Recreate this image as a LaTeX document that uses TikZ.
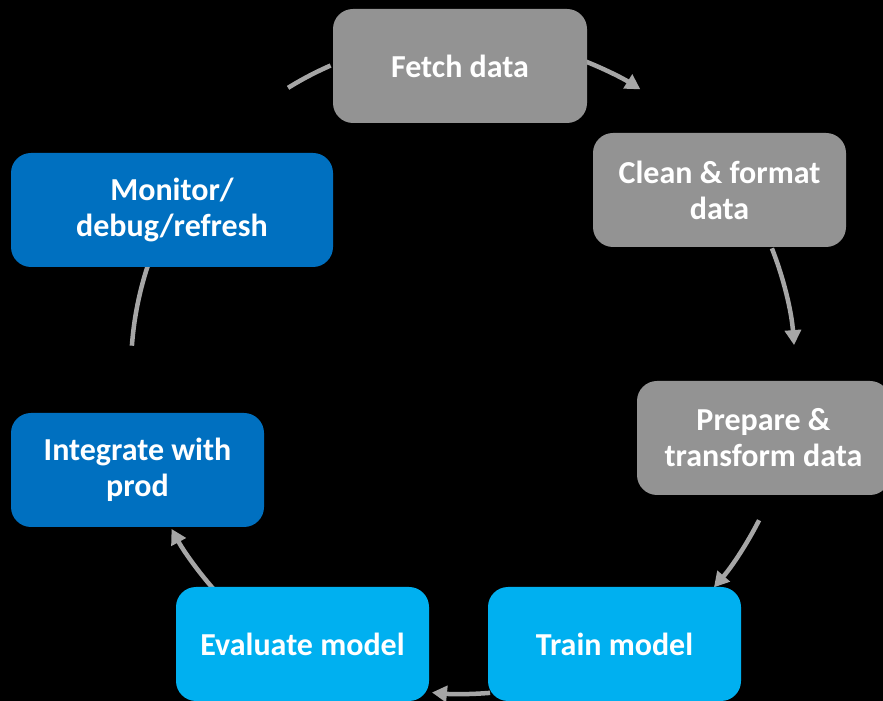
\documentclass[tikz,border=0pt]{standalone}
\usepackage{fontspec}
\setmainfont{Carlito}
\usetikzlibrary{arrows.meta,calc}
\definecolor{boxgray}{HTML}{939393}
\definecolor{darkblue}{HTML}{0070C0}
\definecolor{lightblue}{HTML}{00B0F0}
\definecolor{arrowgray}{HTML}{A6A6A6}
\begin{document}
\begin{tikzpicture}[x=1pt,y=1pt,
  stepbox/.style={rounded corners=20pt, minimum width=254pt, minimum height=114pt,
    inner sep=0pt, text=white, align=center, font=\fontsize{32}{36}\selectfont\bfseries},
  conn/.style={draw=arrowgray, line width=4.5pt},
  tip/.style={-{Triangle[width=16pt,length=15pt]}}]
\fill[black] (0,0) rectangle (883,701);
\useasboundingbox (0,0) rectangle (883,701);
\coordinate (C) at (463,331);
% connectors (behind boxes)
\coordinate (a1s) at ($(C)+(68.4:332)$);
\coordinate (a2s) at ($(C)+(21.5:332)$);
\coordinate (a3s) at ($(C)+(-26.9:332)$);
\coordinate (a4s) at ($(C)+(-85.2:324)$);
\coordinate (a5s) at ($(C)+(-138.7:332)$);
\coordinate (a6s) at ($(C)+(175.8:332)$);
\coordinate (a7s) at ($(C)+(121.8:332)$);
\draw[conn,tip] (a1s) arc[start angle=68.4, end angle=57.7, radius=332];
\draw[conn,tip] (a2s) arc[start angle=21.5, end angle=4.3, radius=332];
\draw[conn,tip] (a3s) arc[start angle=-26.9, end angle=-40.9, radius=332];
\draw[conn,tip] (a4s) arc[start angle=-85.2, end angle=-95.5, radius=324];
\draw[conn,tip] (a5s) arc[start angle=-138.7, end angle=-151.4, radius=332];
\draw[conn] (a6s) arc[start angle=175.8, end angle=161.0, radius=332];
\draw[conn] (a7s) arc[start angle=121.8, end angle=113.5, radius=332];
% boxes
\node[stepbox, fill=boxgray] (fetch) at (460,635) {Fetch data};
\node[stepbox, fill=boxgray, minimum width=253pt] (clean) at (719.5,511) {Clean \& format\\data};
\node[stepbox, fill=boxgray, minimum width=253pt] (prep) at (763.5,263) {Prepare \&\\transform data};
\node[stepbox, fill=lightblue, minimum width=253pt] (train) at (614.5,57) {Train model};
\node[stepbox, fill=lightblue, minimum width=253pt] (eval) at (302.5,57) {Evaluate model};
\node[stepbox, fill=darkblue, minimum width=253pt] (integ) at (137.5,231) {Integrate with\\prod};
\node[stepbox, fill=darkblue, minimum width=322pt] (mon) at (172,491) {Monitor/\\debug/refresh};
\end{tikzpicture}
\end{document}
